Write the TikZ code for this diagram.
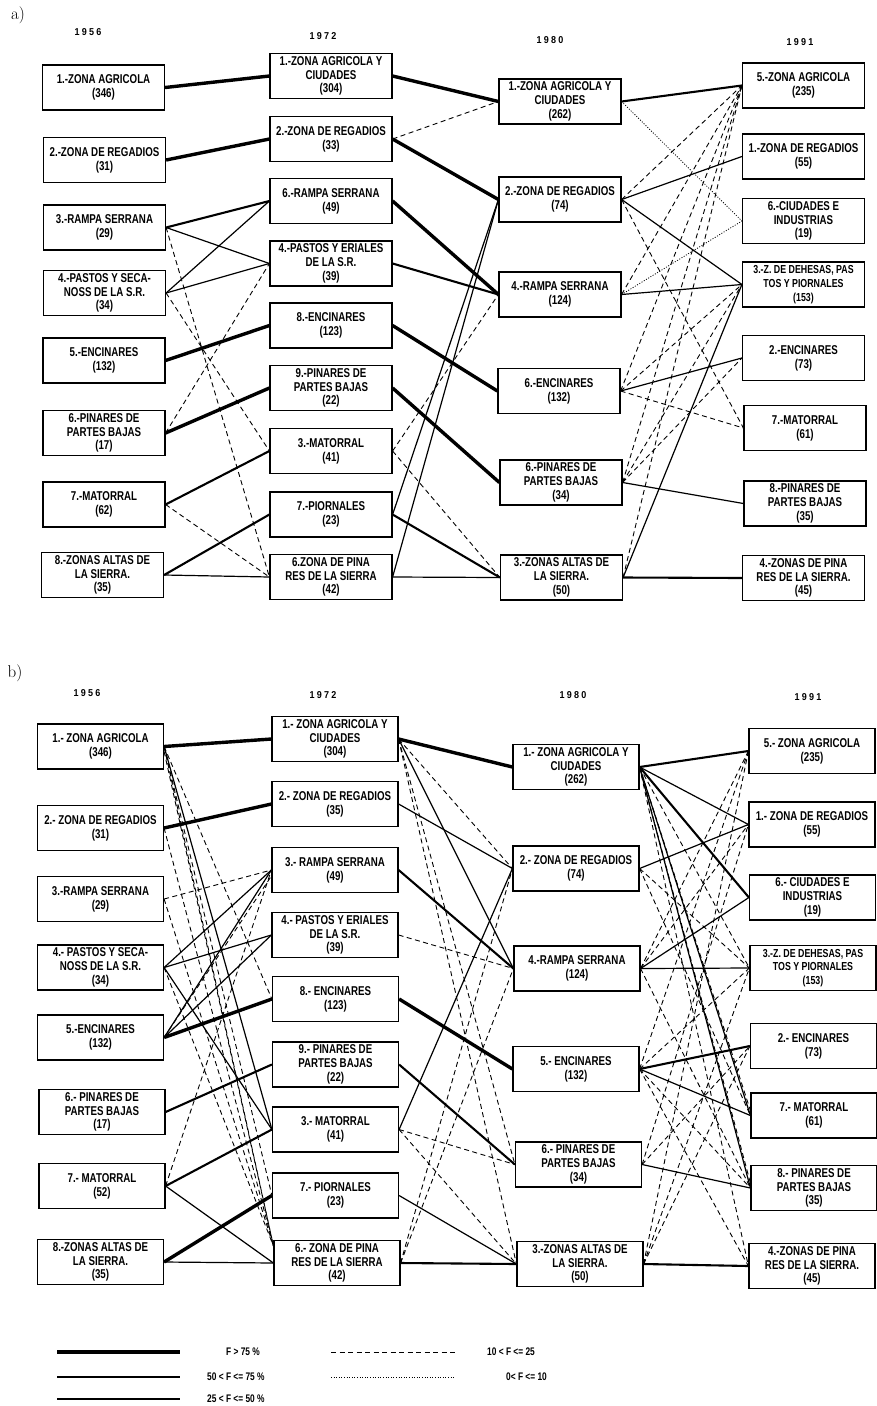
\documentclass[tikz,border=0pt]{standalone}
\usepackage{fontspec}
\usetikzlibrary{calc}
\newfontfamily\boxfont[FakeStretch=0.76]{Liberation Sans}
\newfontfamily\yrfont[FakeStretch=0.9, LetterSpace=22]{Liberation Sans}
\tikzset{
  bx/.style={draw, line width=1.2pt, minimum height=45pt, inner sep=1pt, align=center,
    font=\boxfont\bfseries\fontsize{12.8}{13.8}\selectfont},
  sm/.style={font=\boxfont\bfseries\fontsize{11.6}{13.8}\selectfont},
  ca/.style={bx, minimum width=122pt},
  cb/.style={bx, minimum width=126pt},
  yr/.style={font=\yrfont\bfseries\fontsize{10}{11}\selectfont},
  pl/.style={font=\fontsize{17}{18}\selectfont},
  lg/.style={font=\boxfont\bfseries\fontsize{11}{12}\selectfont, anchor=west, inner sep=0pt},
  L4/.style={line width=3.4pt},
  L3/.style={line width=2.1pt},
  L2/.style={line width=1.2pt},
  Ld/.style={line width=0.9pt, dash pattern=on 5pt off 3.5pt},
  Lo/.style={line width=0.8pt, dash pattern=on 1pt off 1.6pt},
}
\begin{document}
\begin{tikzpicture}[x=1pt,y=-1pt]
\fill[white] (0,0) rectangle (877,1406);
\useasboundingbox (0,0) rectangle (877,1406);

% ---------------- panel a ----------------
\node[pl] (pa) at (18,15) {a)};
\node[yr] (ya1) at (88,32) {1956};
\node[yr] (ya2) at (323,36) {1972};
\node[yr] (ya3) at (550,40) {1980};
\node[yr] (ya4) at (800,42) {1991};

\node[ca] (A11) at (103.5,87.5) {1.-ZONA AGRICOLA\\(346)};
\node[ca] (A12) at (104.5,160) {2.-ZONA DE REGADIOS\\(31)};
\node[ca] (A13) at (104.5,227.5) {3.-RAMPA SERRANA\\(29)};
\node[ca] (A14) at (104.5,293) {4.-PASTOS Y SECA-\\NOSS DE LA S.R.\\(34)};
\node[ca] (A15) at (104,360.5) {5.-ENCINARES\\(132)};
\node[ca] (A16) at (104,433) {6.-PINARES DE\\PARTES BAJAS\\(17)};
\node[ca] (A17) at (104,504.5) {7.-MATORRAL\\(62)};
\node[ca] (A18) at (102.5,575) {8.-ZONAS ALTAS DE\\LA SIERRA.\\(35)};

\node[ca] (A21) at (331,76) {1.-ZONA AGRICOLA Y\\CIUDADES\\(304)};
\node[ca] (A22) at (331,139) {2.-ZONA DE REGADIOS\\(33)};
\node[ca] (A23) at (331,201) {6.-RAMPA SERRANA\\(49)};
\node[ca] (A24) at (331,263.5) {4.-PASTOS Y ERIALES\\DE LA S.R.\\(39)};
\node[ca] (A25) at (331,325.5) {8.-ENCINARES\\(123)};
\node[ca] (A26) at (331,388) {9.-PINARES DE\\PARTES BAJAS\\(22)};
\node[ca] (A27) at (331,451) {3.-MATORRAL\\(41)};
\node[ca] (A28) at (331,514.5) {7.-PIORNALES\\(23)};
\node[ca] (A29) at (331,577) {6.ZONA DE PINA\\RES DE LA SIERRA\\(42)};

\node[ca] (A31) at (560,101.5) {1.-ZONA AGRICOLA Y\\CIUDADES\\(262)};
\node[ca] (A32) at (560,199.5) {2.-ZONA DE REGADIOS\\(74)};
\node[ca] (A33) at (560,294.5) {4.-RAMPA SERRANA\\(124)};
\node[ca] (A34) at (559,391) {6.-ENCINARES\\(132)};
\node[ca] (A35) at (561,482.5) {6.-PINARES DE\\PARTES BAJAS\\(34)};
\node[ca] (A36) at (561.5,577.5) {3.-ZONAS ALTAS DE\\LA SIERRA.\\(50)};

\node[ca] (A41) at (803.5,85.5) {5.-ZONA AGRICOLA\\(235)};
\node[ca] (A42) at (803.5,156.5) {1.-ZONA DE REGADIOS\\(55)};
\node[ca] (A43) at (803.5,221) {6.-CIUDADES E\\INDUSTRIAS\\(19)};
\node[ca,sm] (A44) at (803.5,284.5) {3.-Z. DE DEHESAS, PAS\\TOS Y PIORNALES\\(153)};
\node[ca] (A45) at (803.5,358) {2.-ENCINARES\\(73)};
\node[ca] (A46) at (805,428) {7.-MATORRAL\\(61)};
\node[ca] (A47) at (805,503.5) {8.-PINARES DE\\PARTES BAJAS\\(35)};
\node[ca] (A48) at (803.5,578) {4.-ZONAS DE PINA\\RES DE LA SIERRA.\\(45)};

% a: 1956 -> 1972
\draw[L4] (A11.east) -- (A21.west);
\draw[L4] (A12.east) -- (A22.west);
\draw[L3] (A13.east) -- (A23.west);
\draw[L2] (A13.east) -- (A24.west);
\draw[Ld] (A13.east) -- (A29.west);
\draw[L2] (A14.east) -- (A23.west);
\draw[L2] (A14.east) -- (A24.west);
\draw[Ld] (A14.east) -- (A27.west);
\draw[L4] (A15.east) -- (A25.west);
\draw[L4] (A16.east) -- (A26.west);
\draw[Ld] (A16.east) -- (A24.west);
\draw[L3] (A17.east) -- (A27.west);
\draw[Ld] (A17.east) -- (A29.west);
\draw[L3] (A18.east) -- (A28.west);
\draw[L2] (A18.east) -- (A29.west);
% a: 1972 -> 1980
\draw[L4] (A21.east) -- (A31.west);
\draw[Ld] (A22.east) -- (A31.west);
\draw[L4] (A22.east) -- (A32.west);
\draw[L4] (A23.east) -- (A33.west);
\draw[L3] (A24.east) -- (A33.west);
\draw[L4] (A25.east) -- (A34.west);
\draw[L4] (A26.east) -- (A35.west);
\draw[Ld] (A27.east) -- (A33.west);
\draw[Ld] (A27.east) -- (A36.west);
\draw[L2] (A28.east) -- (A32.west);
\draw[L2] (A29.east) -- (A32.west);
\draw[L3] (A28.east) -- (A36.west);
\draw[L2] (A29.east) -- (A36.west);
% a: 1980 -> 1991
\draw[L3] (A31.east) -- (A41.west);
\draw[Lo] (A31.east) -- (A43.west);
\draw[Ld] (A32.east) -- (A41.west);
\draw[L2] (A32.east) -- (A42.west);
\draw[L2] (A32.east) -- (A44.west);
\draw[Ld] (A32.east) -- (A46.west);
\draw[Ld] (A33.east) -- (A41.west);
\draw[Lo] (A33.east) -- (A43.west);
\draw[L2] (A33.east) -- (A44.west);
\draw[L2] (A34.east) -- (A45.west);
\draw[Ld] (A34.east) -- (A46.west);
\draw[Ld] (A34.east) -- (A41.west);
\draw[Ld] (A34.east) -- (A44.west);
\draw[Ld] (A35.east) -- (A41.west);
\draw[Ld] (A35.east) -- (A44.west);
\draw[Ld] (A35.east) -- (A45.west);
\draw[L2] (A35.east) -- (A47.west);
\draw[Ld] (A36.east) -- (A41.west);
\draw[L2] (A36.east) -- (A44.west);
\draw[L3] (A36.east) -- (A48.west);

% ---------------- panel b ----------------
\node[pl] (pb) at (15,673) {b)};
\node[yr] (yb1) at (87,693) {1956};
\node[yr] (yb2) at (323,695) {1972};
\node[yr] (yb3) at (573,695) {1980};
\node[yr] (yb4) at (808,697) {1991};

\node[cb] (B11) at (100.5,746.5) {1.- ZONA AGRICOLA\\(346)};
\node[cb] (B12) at (100.5,828) {2.- ZONA DE REGADIOS\\(31)};
\node[cb] (B13) at (100.5,899) {3.-RAMPA SERRANA\\(29)};
\node[cb] (B14) at (100.5,967.5) {4.- PASTOS Y SECA-\\NOSS DE LA S.R.\\(34)};
\node[cb] (B15) at (100.5,1037.5) {5.-ENCINARES\\(132)};
\node[cb] (B16) at (102,1112) {6.- PINARES DE\\PARTES BAJAS\\(17)};
\node[cb] (B17) at (102,1186) {7.- MATORRAL\\(52)};
\node[cb] (B18) at (100.5,1262) {8.-ZONAS ALTAS DE\\LA SIERRA.\\(35)};

\node[cb] (B21) at (335,739) {1.- ZONA AGRICOLA Y\\CIUDADES\\(304)};
\node[cb] (B22) at (335,804) {2.- ZONA DE REGADIOS\\(35)};
\node[cb] (B23) at (335,870) {3.- RAMPA SERRANA\\(49)};
\node[cb] (B24) at (335,935) {4.- PASTOS Y ERIALES\\DE LA S.R.\\(39)};
\node[cb] (B25) at (335.5,999) {8.- ENCINARES\\(123)};
\node[cb] (B26) at (335.5,1064.5) {9.- PINARES DE\\PARTES BAJAS\\(22)};
\node[cb] (B27) at (335.5,1129.5) {3.- MATORRAL\\(41)};
\node[cb] (B28) at (335.5,1195.5) {7.- PIORNALES\\(23)};
\node[cb] (B29) at (337,1263) {6.- ZONA DE PINA\\RES DE LA SIERRA\\(42)};

\node[cb] (B31) at (576,767) {1.- ZONA AGRICOLA Y\\CIUDADES\\(262)};
\node[cb] (B32) at (576,868.5) {2.- ZONA DE REGADIOS\\(74)};
\node[cb] (B33) at (577,968.5) {4.-RAMPA SERRANA\\(124)};
\node[cb] (B34) at (576,1069) {5.- ENCINARES\\(132)};
\node[cb] (B35) at (578.5,1164.5) {6.- PINARES DE\\PARTES BAJAS\\(34)};
\node[cb] (B36) at (580,1264) {3.-ZONAS ALTAS DE\\LA SIERRA.\\(50)};

\node[cb] (B41) at (812,751) {5.- ZONA AGRICOLA\\(235)};
\node[cb] (B42) at (812,824.5) {1.- ZONA DE REGADIOS\\(55)};
\node[cb] (B43) at (812.5,897.5) {6.- CIUDADES E\\INDUSTRIAS\\(19)};
\node[cb,sm] (B44) at (813,968) {3.-Z. DE DEHESAS, PAS\\TOS Y PIORNALES\\(153)};
\node[cb] (B45) at (813.5,1046) {2.- ENCINARES\\(73)};
\node[cb] (B46) at (814,1115.5) {7.- MATORRAL\\(61)};
\node[cb] (B47) at (814,1188) {8.- PINARES DE\\PARTES BAJAS\\(35)};
\node[cb] (B48) at (812,1266) {4.-ZONAS DE PINA\\RES DE LA SIERRA.\\(45)};

\coordinate (B29t) at ($(B29.north west)+(0,6)$);

% b: 1956 -> 1972
\draw[L4] (B11.east) -- (B21.west);
\draw[L2] (B11.east) -- (B27.west);
\draw[Ld] (B11.east) -- (B25.west);
\draw[Ld] (B11.east) -- (B28.west);
\draw[Ld] (B11.east) -- (B29t);
\draw[Ld] ($(B11.east)+(0,5)$) -- (B29t);
\draw[L4] (B12.east) -- (B22.west);
\draw[Ld] (B12.east) -- (B29t);
\draw[Ld] (B13.east) -- (B23.west);
\draw[Ld] (B13.east) -- (B29t);
\draw[L2] (B14.east) -- (B23.west);
\draw[L2] (B14.east) -- (B24.west);
\draw[L2] (B14.east) -- (B27.west);
\draw[Ld] (B14.east) -- (B29t);
\draw[L4] (B15.east) -- (B25.west);
\draw[L2] (B15.east) -- (B23.west);
\draw[Ld] (B15.east) -- ($(B23.west)+(0,6)$);
\draw[L2] (B15.east) -- (B24.west);
\draw[L3] (B16.east) -- (B26.west);
\draw[L3] (B17.east) -- (B27.west);
\draw[Ld] (B17.east) -- (B23.west);
\draw[L2] (B17.east) -- (B29.west);
\draw[L4] (B18.east) -- (B28.west);
\draw[L2] (B18.east) -- (B29.west);
% b: 1972 -> 1980
\draw[L4] (B21.east) -- (B31.west);
\draw[Ld] (B21.east) -- (B32.west);
\draw[L2] (B21.east) -- (B33.west);
\draw[Ld] (B21.east) -- (B35.west);
\draw[Ld] (B21.east) -- (B36.west);
\draw[L2] (B22.east) -- (B32.west);
\draw[L3] (B23.east) -- (B33.west);
\draw[Ld] (B24.east) -- (B33.west);
\draw[L4] (B25.east) -- (B34.west);
\draw[L3] (B26.east) -- (B35.west);
\draw[L2] (B27.east) -- (B32.west);
\draw[Ld] (B27.east) -- (B35.west);
\draw[Ld] (B27.east) -- (B36.west);
\draw[L2] (B28.east) -- (B36.west);
\draw[Ld] (B29.east) -- (B32.west);
\draw[Ld] (B29.east) -- (B33.west);
\draw[L3] (B29.east) -- (B36.west);
% b: 1980 -> 1991
\draw[L3] (B31.east) -- (B41.west);
\draw[L2] (B31.east) -- (B42.west);
\draw[L3] (B31.east) -- (B43.west);
\draw[Ld] (B31.east) -- (B44.west);
\draw[L2] (B31.east) -- (B46.west);
\draw[Ld] (B31.east) -- ($(B46.west)+(0,-5)$);
\draw[L2] (B31.east) -- (B47.west);
\draw[Ld] (B31.east) -- ($(B47.west)+(0,-5)$);
\draw[Ld] (B31.east) -- (B48.west);
\draw[L2] (B32.east) -- (B42.west);
\draw[Ld] (B32.east) -- (B44.west);
\draw[Ld] (B32.east) -- (B46.west);
\draw[L2] (B33.east) -- (B44.west);
\draw[L2] (B33.east) -- (B43.west);
\draw[Ld] (B33.east) -- (B41.west);
\draw[Ld] (B33.east) -- (B42.west);
\draw[Ld] (B33.east) -- (B47.west);
\draw[L3] (B34.east) -- (B45.west);
\draw[L2] (B34.east) -- (B46.west);
\draw[Ld] (B34.east) -- (B44.west);
\draw[Ld] (B34.east) -- (B41.west);
\draw[Ld] (B34.east) -- (B47.west);
\draw[Ld] (B34.east) -- (B48.west);
\draw[L2] (B35.east) -- (B47.west);
\draw[Ld] (B35.east) -- (B42.west);
\draw[Ld] (B35.east) -- (B45.west);
\draw[L3] (B36.east) -- (B48.west);
\draw[Ld] (B36.east) -- (B41.west);
\draw[Ld] (B36.east) -- (B44.west);
\draw[Ld] (B36.east) -- (B45.west);

% ---------------- legend ----------------
\coordinate (g1a) at (57,1352); \coordinate (g1b) at (180,1352);
\coordinate (g2a) at (57,1377); \coordinate (g2b) at (180,1377);
\coordinate (g3a) at (57,1399); \coordinate (g3b) at (180,1399);
\coordinate (g4a) at (331,1352); \coordinate (g4b) at (455,1352);
\coordinate (g5a) at (331,1377); \coordinate (g5b) at (455,1377);
\draw[L4] (g1a) -- (g1b);
\draw[L3] (g2a) -- (g2b);
\draw[L2] (g3a) -- (g3b);
\draw[Ld] (g4a) -- (g4b);
\draw[Lo] (g5a) -- (g5b);
\node[lg] (t1) at (226,1352) {F > 75 \%};
\node[lg] (t2) at (207,1377) {50 < F <= 75 \%};
\node[lg] (t3) at (207,1399) {25 < F <= 50 \%};
\node[lg] (t4) at (487,1352) {10 < F <= 25};
\node[lg] (t5) at (506,1377) {0< F <= 10};
\end{tikzpicture}
\end{document}
